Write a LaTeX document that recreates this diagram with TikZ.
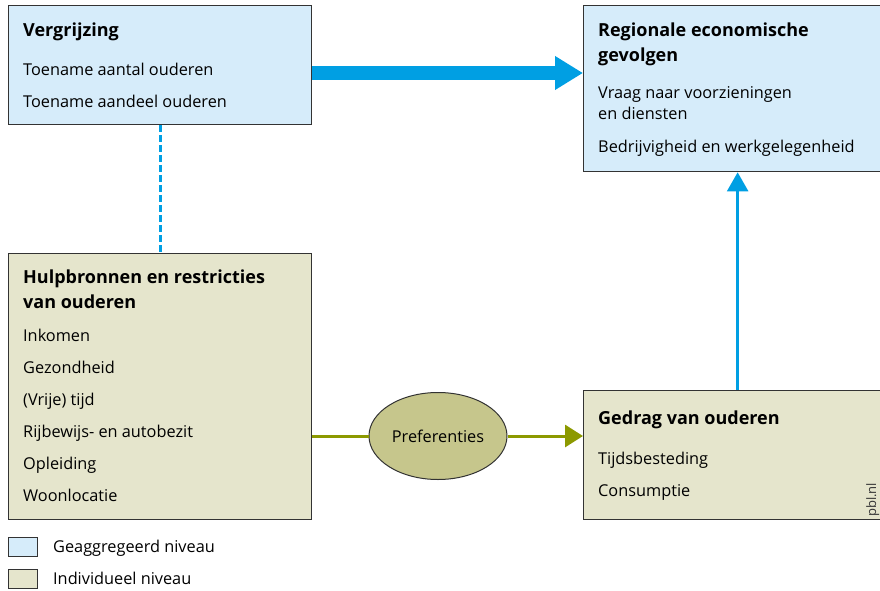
\documentclass[tikz,border=0pt]{standalone}
\usepackage{fontspec}
\setmainfont{Open Sans}
\usetikzlibrary{shapes.geometric, arrows.meta, positioning}

\definecolor{agglight}{HTML}{D6ECFA}
\definecolor{indlight}{HTML}{E5E5CC}
\definecolor{pblblue}{HTML}{009FE3}
\definecolor{pblolive}{HTML}{8C9900}
\definecolor{prefill}{HTML}{C6C68C}
\definecolor{edgegray}{HTML}{333333}

\begin{document}
\begin{tikzpicture}[x=1pt, y=-1pt,
    every node/.style={font=\fontsize{16.3}{21}\selectfont},
    box/.style={draw=edgegray, line width=1.3pt, rectangle, anchor=north west, inner sep=0pt},
    aggbox/.style={box, fill=agglight},
    indbox/.style={box, fill=indlight},
    head/.style={anchor=base west, align=left, inner sep=0pt, font=\fontsize{18}{25}\selectfont\bfseries},
    item/.style={anchor=base west, align=left, inner sep=0pt}]
    \useasboundingbox (0,0) rectangle (880,591);

    % boxes
    \node[aggbox, minimum width=303pt, minimum height=119pt] (verg) at (8,5) {};
    \node[aggbox, minimum width=308pt, minimum height=166pt] (regio) at (583,5) {};
    \node[indbox, minimum width=303pt, minimum height=266pt] (hulp) at (8,253) {};
    \node[indbox, minimum width=308pt, minimum height=129pt] (gedrag) at (583,390) {};

    % texts (two-line nodes sit on their last line)
    \node[head] (vergT) at (23,37) {Vergrijzing};
    \node[item] (verg1) at (23,76) {Toename aantal ouderen};
    \node[item] (verg2) at (23,108) {Toename aandeel ouderen};

    \node[head] (regioT) at (598,62) {Regionale economische\\gevolgen};
    \node[item] (regio1) at (598,120) {Vraag naar voorzieningen\\en diensten};
    \node[item] (regio2) at (598,152) {Bedrijvigheid en werkgelegenheid};

    \node[head] (hulpT) at (23,308) {Hulpbronnen en restricties\\van ouderen};
    \node[item] (hulp1) at (23,341) {Inkomen};
    \node[item] (hulp2) at (23,373) {Gezondheid};
    \node[item] (hulp3) at (23,405) {(Vrije) tijd};
    \node[item] (hulp4) at (23,437) {Rijbewijs- en autobezit};
    \node[item] (hulp5) at (23,469) {Opleiding};
    \node[item] (hulp6) at (23,501) {Woonlocatie};

    \node[head] (gedragT) at (598,424) {Gedrag van ouderen};
    \node[item] (gedrag1) at (598,464) {Tijdsbesteding};
    \node[item] (gedrag2) at (598,496) {Consumptie};

    \node[draw=edgegray, ellipse, fill=prefill, line width=1pt, minimum width=138pt, minimum height=87pt, inner sep=0pt] (pref) at (438,436) {Preferenties};

    \node[rotate=90, anchor=base west, inner sep=0pt, text=edgegray, font=\fontsize{13}{13}\selectfont] (pbl) at (876,517) {pbl.nl};

    % connectors
    \draw[pblblue, line width=14pt, -{Triangle[length=28pt, width=32pt]}] (verg.east |- 0,73) -- (regio.west |- 0,73);
    \draw[pblblue, line width=3pt, dash pattern=on 7pt off 3pt] (verg.south) -- (hulp.north);
    \draw[pblblue, line width=2.5pt, -{Triangle[length=19pt, width=21pt]}] (gedrag.north) -- (regio.south);
    \draw[pblolive, line width=3pt] (hulp.east |- pref) -- (pref.west);
    \draw[pblolive, line width=3pt, -{Triangle[length=18pt, width=22pt]}] (pref.east) -- (gedrag.west |- pref);

    % legend
    \node[aggbox, minimum width=29pt, minimum height=19pt, line width=1pt] (legagg) at (8,537) {};
    \node[indbox, minimum width=29pt, minimum height=19pt, line width=1pt] (legind) at (8,569) {};
    \node[item] (legaggT) at (53,552) {Geaggregeerd niveau};
    \node[item] (legindT) at (53,584) {Individueel niveau};
\end{tikzpicture}
\end{document}
